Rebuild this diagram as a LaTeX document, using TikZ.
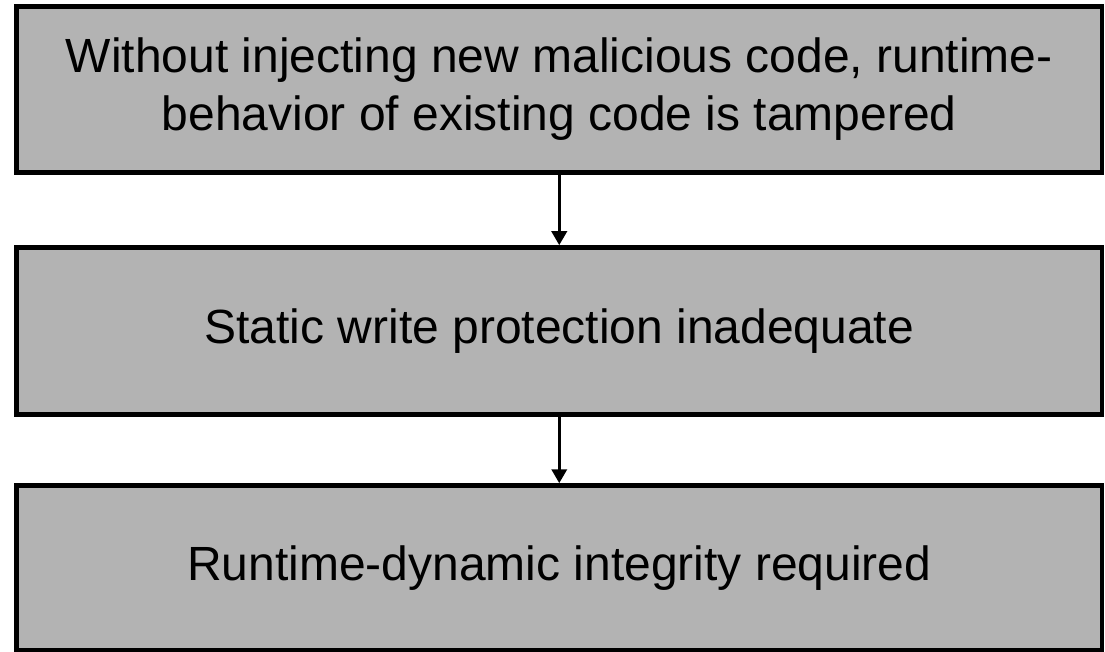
\documentclass[tikz,border=0pt]{standalone}
\usepackage{fontspec}
\setmainfont{Liberation Sans}
\usetikzlibrary{arrows.meta}
\definecolor{boxgray}{HTML}{B3B3B3}
\tikzset{
  stepbox/.style={draw=black, line width=4.5pt, fill=boxgray,
    minimum width=1085.5pt, inner sep=0pt, align=center,
    font=\fontsize{48pt}{58pt}\selectfont},
  flow/.style={line width=3.5pt, -{Triangle[width=15pt,length=14pt]}}
}
\begin{document}
\begin{tikzpicture}[x=1pt,y=1pt]
  \useasboundingbox (0,0) rectangle (1105,-652);
  \node[stepbox, minimum height=166pt] (b1) at (559.25,-89.5)
    {Without injecting new malicious code, runtime-\\behavior of existing code is tampered};
  \node[stepbox, minimum height=167pt] (b2) at (559.25,-331)
    {Static write protection inadequate};
  \node[stepbox, minimum height=165pt] (b3) at (559.25,-568)
    {Runtime-dynamic integrity required};
  \draw[flow] (b1.south) -- (b2.north);
  \draw[flow] (b2.south) -- (b3.north);
\end{tikzpicture}
\end{document}
